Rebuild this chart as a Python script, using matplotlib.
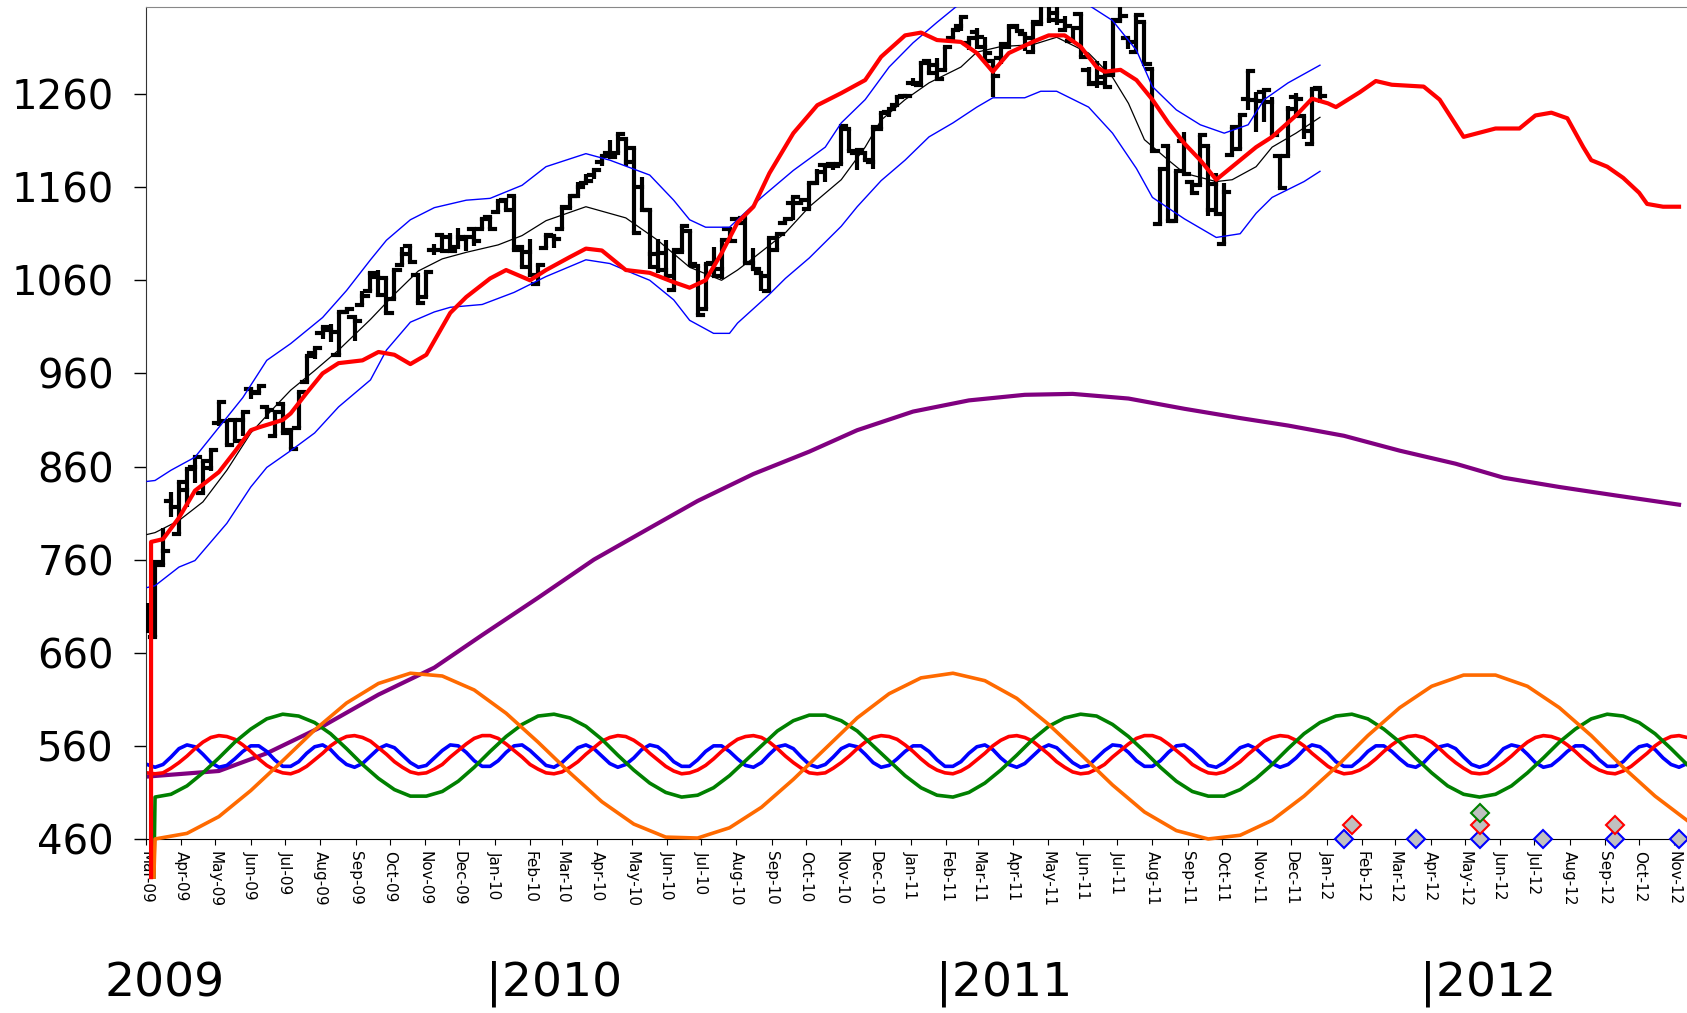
import numpy as np
import pandas as pd
import matplotlib
matplotlib.use("Agg")
import matplotlib.pyplot as plt
import matplotlib.dates as mdates

# Weekly bars (week starting 2009-03-02), high/low taken from daily closes
bar_open = [701, 677, 754, 823, 788, 835, 859, 832, 858, 907, 909, 910, 910, 943, 939, 924, 893, 927, 899, 901,
            951, 982, 1003, 1007, 980, 1026, 1021, 1033, 1049, 1064, 1062, 1040, 1076, 1097, 1066, 1042, 1093, 1109, 1106, 1096,
            1104, 1115, 1115, 1128,
            1133, 1146, 1150, 1096, 1090, 1056, 1095, 1108, 1115, 1138, 1150, 1165, 1173, 1187, 1197, 1197, 1212, 1202, 1160, 1136,
            1074, 1071, 1050, 1090, 1113, 1075, 1029, 1079, 1072, 1115, 1126, 1127, 1079, 1068, 1048, 1092, 1121, 1143, 1143, 1137,
            1165, 1184, 1185, 1185, 1223, 1197, 1197, 1187, 1223, 1241, 1248, 1258,
            1272, 1270, 1295, 1291, 1286, 1320, 1333, 1315, 1327, 1310, 1296, 1299, 1310, 1333, 1324, 1305, 1335, 1361, 1347, 1329,
            1317, 1346, 1286, 1272, 1278, 1280, 1338, 1320, 1305, 1337, 1287, 1120, 1204, 1124, 1210, 1166, 1162, 1204, 1163, 1099,
            1195, 1201, 1255, 1254, 1262, 1252, 1193, 1193, 1257, 1236, 1206, 1266]
bar_high = [713, 757, 794, 833, 843, 857, 870, 866, 878, 929, 909, 910, 919, 945, 946, 924, 920, 927, 899, 940,
            979, 987, 1010, 1013, 1026, 1031, 1021, 1049, 1069, 1071, 1062, 1071, 1096, 1097, 1066, 1069, 1099, 1110, 1111, 1116,
            1106, 1115, 1127, 1128,
            1145, 1148, 1150, 1097, 1104, 1078, 1109, 1109, 1139, 1150, 1166, 1174, 1178, 1194, 1211, 1217, 1212, 1202, 1171, 1136,
            1104, 1103, 1092, 1118, 1113, 1075, 1078, 1096, 1103, 1115, 1128, 1127, 1095, 1068, 1105, 1110, 1126, 1149, 1147, 1165,
            1179, 1184, 1185, 1226, 1223, 1200, 1199, 1225, 1240, 1243, 1259, 1259,
            1277, 1296, 1295, 1299, 1311, 1329, 1343, 1320, 1331, 1321, 1296, 1314, 1335, 1335, 1324, 1337, 1364, 1361, 1358, 1344,
            1331, 1346, 1289, 1296, 1295, 1340, 1354, 1320, 1345, 1337, 1287, 1179, 1204, 1177, 1219, 1166, 1216, 1204, 1175, 1164,
            1225, 1238, 1285, 1262, 1264, 1257, 1193, 1247, 1261, 1236, 1265, 1266]
bar_low = [683, 677, 754, 806, 788, 816, 842, 832, 855, 904, 883, 887, 893, 932, 939, 911, 893, 896, 879, 901,
           951, 975, 997, 994, 980, 1026, 995, 1033, 1049, 1042, 1025, 1040, 1076, 1080, 1036, 1042, 1087, 1091, 1091, 1096,
           1091, 1097, 1115, 1115,
           1133, 1136, 1092, 1074, 1063, 1056, 1095, 1095, 1115, 1138, 1150, 1165, 1169, 1183, 1192, 1197, 1183, 1111, 1136, 1072,
           1068, 1065, 1050, 1090, 1074, 1023, 1029, 1065, 1061, 1101, 1120, 1079, 1072, 1048, 1048, 1092, 1121, 1125, 1141, 1137,
           1165, 1166, 1178, 1185, 1199, 1178, 1189, 1180, 1223, 1235, 1248, 1257,
           1269, 1270, 1281, 1276, 1286, 1320, 1328, 1307, 1308, 1295, 1257, 1292, 1310, 1328, 1306, 1305, 1335, 1336, 1334, 1329,
           1316, 1300, 1271, 1266, 1268, 1280, 1338, 1308, 1305, 1292, 1199, 1120, 1124, 1124, 1174, 1154, 1162, 1129, 1131, 1099,
           1195, 1201, 1243, 1219, 1230, 1216, 1159, 1193, 1234, 1212, 1206, 1250]
bar_close = [683, 757, 769, 816, 843, 857, 870, 866, 878, 929, 883, 887, 919, 940, 946, 921, 919, 896, 879, 940,
             979, 987, 1010, 1004, 1026, 1029, 1016, 1043, 1068, 1044, 1025, 1071, 1088, 1080, 1036, 1069, 1093, 1091, 1091, 1106,
             1106, 1102, 1126, 1115,
             1145, 1136, 1092, 1074, 1066, 1076, 1109, 1104, 1139, 1150, 1160, 1167, 1178, 1194, 1192, 1217, 1187, 1111, 1136, 1088,
             1089, 1065, 1092, 1118, 1077, 1023, 1078, 1065, 1103, 1102, 1122, 1079, 1072, 1065, 1105, 1110, 1126, 1149, 1146, 1165,
             1176, 1183, 1183, 1226, 1199, 1200, 1189, 1225, 1240, 1244, 1257, 1258,
             1272, 1293, 1283, 1276, 1311, 1329, 1343, 1320, 1321, 1304, 1279, 1314, 1332, 1328, 1320, 1337, 1364, 1340, 1338, 1333,
             1331, 1300, 1271, 1272, 1268, 1340, 1344, 1316, 1345, 1292, 1199, 1179, 1124, 1177, 1174, 1154, 1216, 1136, 1131, 1155,
             1225, 1238, 1285, 1253, 1264, 1216, 1159, 1244, 1255, 1220, 1265, 1258]

# 20-week band lines (week index, value)
mid_weeks = [0, 1, 4, 7, 10, 13, 16, 18, 21, 24, 28, 31, 34, 37, 40, 44, 47, 50, 55, 60,
             64, 68, 72, 74, 76, 80, 83, 87, 90, 92, 95, 98, 102, 104, 107, 111, 114, 118, 121, 123,
             125, 128, 130, 134, 136, 139, 141, 144, 147]
mid_vals = [787, 789, 802, 822, 856, 896, 924, 942, 963, 985, 1018, 1045, 1070, 1083, 1090, 1098, 1108, 1124, 1139, 1127,
            1103, 1074, 1060, 1071, 1084, 1111, 1139, 1168, 1203, 1232, 1254, 1272, 1289, 1305, 1311, 1313, 1321, 1304, 1278, 1250,
            1211, 1189, 1175, 1166, 1168, 1182, 1203, 1218, 1235]
up_weeks = [0, 1, 3, 6, 9, 12, 15, 18, 22, 25, 28, 30, 33, 36, 40, 43, 47, 50, 55, 58,
            63, 66, 68, 70, 73, 77, 81, 85, 87, 90, 93, 96, 99, 102, 105, 108, 111, 114, 117, 121,
            124, 126, 129, 132, 135, 138, 140, 143, 147]
up_vals = [844, 845, 856, 870, 902, 934, 974, 992, 1020, 1049, 1082, 1103, 1125, 1138, 1146, 1148, 1162, 1182, 1196, 1189,
           1173, 1146, 1125, 1117, 1117, 1149, 1178, 1203, 1229, 1254, 1289, 1315, 1337, 1358, 1375, 1385, 1390, 1380, 1361, 1339,
           1307, 1268, 1243, 1227, 1218, 1227, 1254, 1272, 1291]
low_weeks = [0, 1, 4, 6, 10, 13, 15, 18, 21, 24, 28, 30, 33, 36, 38, 42, 46, 50, 55, 58,
             61, 63, 66, 68, 71, 73, 74, 78, 80, 83, 87, 89, 92, 95, 98, 101, 104, 106, 110, 112,
             114, 118, 121, 124, 126, 130, 134, 137, 139, 141, 145, 147]
low_vals = [730, 732, 752, 759, 799, 838, 859, 877, 896, 924, 953, 985, 1015, 1026, 1031, 1034, 1047, 1064, 1082, 1078,
            1067, 1060, 1039, 1017, 1003, 1003, 1014, 1045, 1062, 1084, 1118, 1139, 1167, 1189, 1214, 1229, 1246, 1256, 1256, 1263,
            1263, 1246, 1218, 1180, 1149, 1126, 1106, 1110, 1132, 1149, 1166, 1177]

# projection line (red) and long trend (purple)
proj_weeks = [0.5, 0.5, 2, 4, 6, 9, 11, 13, 14, 17, 18, 20, 22, 24, 27, 29, 31, 33, 35, 38,
              40, 43, 45, 48, 50, 53, 55, 57, 60, 63, 66, 68, 70, 72, 74, 76, 78, 81, 84, 87,
              90, 92, 95, 97, 99, 102, 104, 106, 108, 111, 113, 115, 117, 119, 120, 122, 124, 126, 128, 130,
              132, 134, 136, 139, 141, 144, 146, 148, 149, 152, 154, 156, 160, 162, 165, 169, 172, 174, 176, 178,
              180, 181, 183, 185, 187, 188, 190, 192]
proj_vals = [419, 779, 782, 805, 834, 854, 876, 899, 902, 910, 917, 939, 960, 971, 974, 983, 980, 970, 980, 1025,
             1042, 1062, 1071, 1060, 1071, 1085, 1094, 1092, 1071, 1068, 1058, 1052, 1060, 1089, 1122, 1139, 1175, 1218, 1248, 1261,
             1275, 1300, 1323, 1326, 1318, 1316, 1304, 1284, 1304, 1316, 1323, 1323, 1311, 1289, 1284, 1286, 1275, 1254, 1229, 1207,
             1189, 1168, 1182, 1203, 1214, 1237, 1255, 1250, 1246, 1262, 1274, 1270, 1268, 1254, 1214, 1223, 1223, 1237, 1240, 1234,
             1203, 1189, 1182, 1170, 1154, 1142, 1139, 1139]
trend_weeks = [0, 9, 15, 22, 29, 36, 42, 49, 56, 63, 69, 76, 83, 89, 96, 103, 110, 116, 123, 130,
               137, 143, 150, 157, 164, 170, 177, 184, 192]
trend_vals = [527, 533, 552, 581, 615, 644, 679, 719, 760, 794, 823, 852, 876, 899, 919, 931, 937, 938, 933, 922,
              912, 904, 893, 877, 863, 848, 838, 829, 819]

# cycle components
orange_weeks = [0.85] + list(range(1, 194, 4))
orange_vals = [419,
               460, 466, 484, 512, 544, 577, 606, 627, 638, 635, 620, 595, 564, 531, 500, 476, 462, 461, 472, 494,
               524, 557, 590, 616, 633, 638, 630, 611, 583, 551, 518, 489, 469, 460, 464, 480, 506, 537, 571, 601,
               624, 636, 636, 624, 601, 571, 537, 506, 480]
green_weeks = [0.85] + list(range(1, 194, 2))
green_vals = [419,
              505, 508, 517, 531, 547, 564, 578, 589, 594, 592, 585, 573, 557, 540, 525, 513, 506, 506, 511, 522,
              537, 554, 570, 583, 592, 594, 590, 581, 567, 550, 534, 520, 510, 505, 507, 515, 528, 544, 560, 576,
              587, 593, 593, 587, 576, 560, 544, 528, 515, 507, 505, 510, 520, 534, 550, 567, 581, 590, 594, 592,
              583, 570, 554, 537, 522, 511, 506, 506, 513, 525, 540, 557, 573, 585, 592, 594, 589, 578, 564, 547,
              531, 517, 508, 505, 508, 517, 531, 547, 564, 578, 589, 594, 592, 585, 573, 557, 540]
red_weeks = list(range(0, 194))
red_vals = [531,
            530, 531, 536, 542, 549, 557, 564, 569, 571, 570, 567, 561, 554, 546, 539, 534, 531, 530, 533, 538,
            545, 552, 560, 566, 570, 571, 569, 565, 558, 551, 543, 537, 532, 530, 531, 535, 540, 548, 555, 562,
            568, 571, 571, 568, 562, 555, 548, 540, 535, 531, 530, 532, 537, 543, 551, 558, 565, 569, 571, 570,
            566, 560, 552, 545, 538, 533, 530, 531, 534, 539, 546, 554, 561, 567, 570, 571, 569, 564, 557, 549,
            542, 536, 531,
            530, 531, 536, 542, 549, 557, 564, 569, 571, 570, 567, 561, 554, 546, 539, 534, 531, 530, 533, 538,
            545, 552, 560, 566, 570, 571, 569, 565, 558, 551, 543, 537, 532, 530, 531, 535, 540, 548, 555, 562,
            568, 571, 571, 568, 562, 555, 548, 540, 535, 531, 530, 532, 537, 543, 551, 558, 565, 569, 571, 570,
            566, 560, 552, 545, 538, 533, 530, 531, 534, 539, 546, 554, 561, 567, 570, 571, 569, 564, 557, 549,
            542, 536, 531,
            530, 531, 536, 542, 549, 557, 564, 569, 571, 570, 567, 561, 554, 546, 539, 534, 531, 530, 533, 538,
            545, 552, 560, 566, 570, 571, 569]
blue_weeks = list(range(0, 194))
blue_vals = [540,
             537, 540, 548, 557, 561, 559, 551, 542, 537, 539, 546, 554, 560, 560, 554, 545, 538, 538, 543, 552,
             559, 561, 556, 547, 540, 537, 541, 549, 557, 561, 558, 550, 542, 537, 539, 547, 555, 561, 560, 553,
             544, 538, 538, 544, 553, 560, 561, 555, 547, 539, 537, 542, 550, 558, 561, 557, 549, 541, 537, 540,
             547, 556, 561, 559, 552, 543, 538, 538, 545, 554, 560, 560, 554, 546, 539, 537, 542, 551, 559, 561,
             557, 548, 540,
             537, 540, 548, 557, 561, 559, 551, 542, 537, 539, 546, 554, 560, 560, 554, 545, 538, 538, 543, 552,
             559, 561, 556, 547, 540, 537, 541, 549, 557, 561, 558, 550, 542, 537, 539, 547, 555, 561, 560, 553,
             544, 538, 538, 544, 553, 560, 561, 555, 547, 539, 537, 542, 550, 558, 561, 557, 549, 541, 537, 540,
             547, 556, 561, 559, 552, 543, 538, 538, 545, 554, 560, 560, 554, 546, 539, 537, 542, 551, 559, 561,
             557, 548, 540,
             537, 540, 548, 557, 561, 559, 551, 542, 537, 539, 546, 554, 560, 560, 554, 545, 538, 538, 543, 552,
             559, 561, 556, 547, 540, 537, 541]

# turn markers
blue_mark_weeks = [150, 159, 167, 175, 184, 192]
red_mark_weeks = [151, 167, 184]
green_mark_weeks = [167]
mark_levels = {'blue': 460, 'red': 475, 'green': 488}

yticks = [460, 560, 660, 760, 860, 960, 1060, 1160, 1260]
year_labels = ['2009', '|2010', '|2011', '|2012']
year_pos = [0.062, 0.288, 0.555, 0.842]

start = pd.Timestamp('2009-03-02')


def wk(w):
    # week number -> matplotlib date number
    return mdates.date2num(start) + np.asarray(w, dtype=float) * 7


fig = plt.figure(figsize=(16.87, 10.13), dpi=100)
ax = fig.add_axes([0.0865, 0.1718, 0.9135, 0.8213])

# cycles
ax.plot(wk(trend_weeks), trend_vals, color='#800080', lw=3, zorder=2)
ax.plot(wk(blue_weeks), blue_vals, color='#0000ff', lw=2.6, zorder=2)
ax.plot(wk(red_weeks), red_vals, color='#ff0000', lw=2.6, zorder=2)
ax.plot(wk(green_weeks), green_vals, color='#008000', lw=2.6, zorder=3, clip_on=False)
ax.plot(wk(orange_weeks), orange_vals, color='#ff6a00', lw=2.6, zorder=3, clip_on=False)

# bars
xb = wk(np.arange(len(bar_close)))
ax.vlines(xb, bar_low, bar_high, color='black', lw=3, zorder=4)
ax.hlines(bar_open, xb - 4.5, xb, color='black', lw=3, zorder=4, capstyle='projecting')
ax.hlines(bar_close, xb, xb + 4.5, color='black', lw=3, zorder=4, capstyle='projecting')

ax.plot(wk(mid_weeks), mid_vals, color='black', lw=0.9, zorder=5)
ax.plot(wk(up_weeks), up_vals, color='#0000ff', lw=1, zorder=5)
ax.plot(wk(low_weeks), low_vals, color='#0000ff', lw=1, zorder=5)
ax.plot(wk(proj_weeks), proj_vals, color='#ff0000', lw=3, zorder=6, clip_on=False)

for col, weeks in [('blue', blue_mark_weeks), ('red', red_mark_weeks), ('green', green_mark_weeks)]:
    ax.plot(wk(weeks), [mark_levels[col]] * len(weeks), 'D', ms=9, mfc='#c0c0c0',
            mec=col, mew=1.5, ls='none', zorder=7, clip_on=False)

ax.set_xlim(mdates.date2num(pd.Timestamp('2009-03-01')), mdates.date2num(pd.Timestamp('2012-11-12')))
ax.set_ylim(460, 1353.5)
ax.set_yticks(yticks)
ax.tick_params(axis='y', labelsize=29, length=9, pad=14, width=1)
ax.xaxis.set_major_locator(mdates.MonthLocator())
ax.xaxis.set_major_formatter(mdates.DateFormatter('%b-%y'))
ax.tick_params(axis='x', labelsize=11, length=4, pad=5, labelrotation=-90)
for lbl in ax.get_xticklabels():
    lbl.set_ha('center')

ax.spines['right'].set_visible(False)
ax.spines['top'].set_color('#888888')
ax.spines['left'].set_color('#333333')

for txt, xp in zip(year_labels, year_pos):
    fig.text(xp, 0.029, txt, fontsize=34, va='center', ha='left')

fig.savefig('out.png', dpi=100)
